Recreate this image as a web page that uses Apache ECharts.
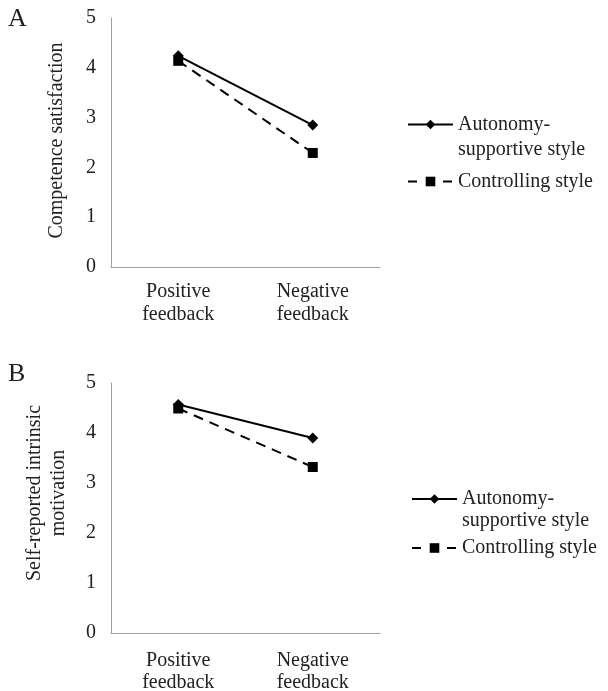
<!DOCTYPE html>
<html>
<head>
<meta charset="utf-8">
<script src="https://cdn.jsdelivr.net/npm/echarts@6/dist/echarts.min.js"></script>
<style>
  html, body { margin: 0; padding: 0; background: #fff; }
  #chart { width: 608px; height: 691px; }
</style>
</head>
<body>
<div id="chart"></div>
<script>
// Feedback conditions on the x axis
const categories = ['Positive\nfeedback', 'Negative\nfeedback'];
const styleNames = ['Autonomy-supportive style', 'Controlling style'];

// Panel A: competence satisfaction
const competenceAutonomy = [4.24, 2.85];
const competenceControlling = [4.14, 2.29];

// Panel B: self-reported intrinsic motivation
const motivationAutonomy = [4.57, 3.9];
const motivationControlling = [4.49, 3.32];

const yTicks = [0, 1, 2, 3, 4, 5];

const FONT = 'Liberation Serif';
const TEXT = '#222';
const AXIS = '#a0a0a0';
const FS = 20;

const chart = echarts.init(document.getElementById('chart'), null, { renderer: 'canvas' });

function xAxis(gridIndex, margin, lh) {
  return {
    type: 'category', gridIndex, data: categories, boundaryGap: true,
    axisLine: { show: true, lineStyle: { color: AXIS, width: 1 } },
    axisTick: { show: false },
    axisLabel: { color: TEXT, fontFamily: FONT, fontSize: FS, lineHeight: lh, margin },
    splitLine: { show: false }
  };
}
function yAxis(gridIndex, name, gap, shift) {
  return {
    type: 'value', gridIndex, min: yTicks[0], max: yTicks[yTicks.length - 1], interval: 1,
    name, nameLocation: 'middle', nameGap: gap, nameRotate: 90,
    nameTextStyle: { color: TEXT, fontFamily: FONT, fontSize: FS, lineHeight: 24, padding: [0, 0, 0, shift] },
    axisLine: { show: true, lineStyle: { color: AXIS, width: 1 } },
    axisTick: { show: false },
    axisLabel: { color: TEXT, fontFamily: FONT, fontSize: FS, margin: 15 },
    splitLine: { show: false }
  };
}
function lineSeries(name, idx, values, dashed) {
  return {
    type: 'line', name, xAxisIndex: idx, yAxisIndex: idx, data: values,
    symbol: dashed ? 'rect' : 'diamond',
    symbolSize: dashed ? 10 : [11, 11],
    lineStyle: { color: '#000', width: 2, type: dashed ? [10, 7] : 'solid' },
    itemStyle: { color: '#000' },
    emphasis: { disabled: true },
    animation: false
  };
}
// The leading empty line keeps the icon level with "Autonomy-"
function legend(left, top, gap, lh) {
  return {
    orient: 'vertical', left, top, itemGap: gap,
    itemWidth: 45, itemHeight: 12,
    data: [
      { name: styleNames[0] },
      { name: styleNames[1], lineStyle: { type: [9, 26] } }
    ],
    formatter: n => n === styleNames[0] ? '\nAutonomy-\nsupportive style' : n,
    textStyle: { color: TEXT, fontFamily: FONT, fontSize: FS, lineHeight: lh },
    selectedMode: false
  };
}

chart.setOption({
  backgroundColor: '#fff',
  animation: false,
  grid: [
    { left: 111, top: 18, width: 269, height: 249, outerBoundsMode: 'none' },
    { left: 111, top: 383, width: 269, height: 250, outerBoundsMode: 'none' }
  ],
  xAxis: [xAxis(0, 13, 23), xAxis(1, 17, 22)],
  yAxis: [
    yAxis(0, 'Competence satisfaction', 42, 4),
    yAxis(1, 'Self-reported intrinsic\nmotivation', 40, 30)
  ],
  legend: [legend(402, 82, 7, 25), legend(406, 461, 5, 22)],
  series: [
    lineSeries(styleNames[0], 0, competenceAutonomy, false),
    lineSeries(styleNames[1], 0, competenceControlling, true),
    lineSeries(styleNames[0], 1, motivationAutonomy, false),
    lineSeries(styleNames[1], 1, motivationControlling, true)
  ],
  graphic: [
    { type: 'text', left: 8, top: 6, style: { text: 'A', fontFamily: FONT, fontSize: 26, fill: TEXT } },
    { type: 'text', left: 8, top: 361, style: { text: 'B', fontFamily: FONT, fontSize: 26, fill: TEXT } }
  ]
});
</script>
</body>
</html>
